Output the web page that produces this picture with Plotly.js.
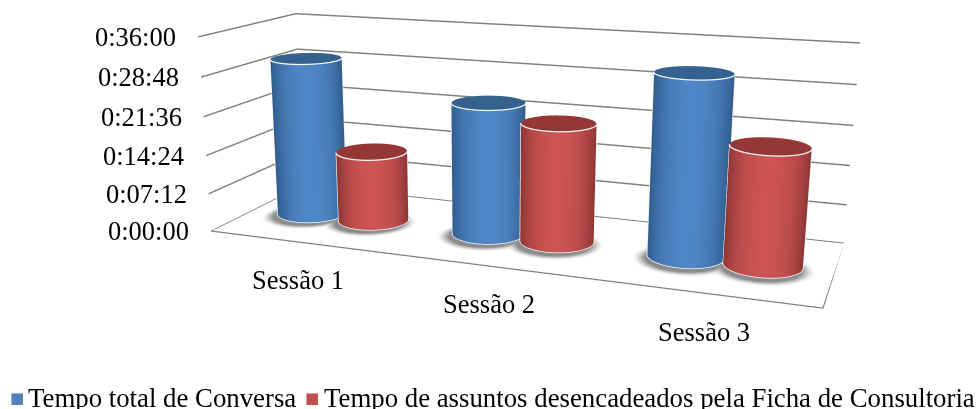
<!DOCTYPE html>
<html><head><meta charset="utf-8"><script src="https://cdn.plot.ly/plotly-3.0.1.min.js"></script>
<style>html,body{margin:0;padding:0;background:#fff;overflow:hidden;width:976px;height:409px}#c{position:absolute;left:0;top:-308px;width:978px;height:997px}</style></head><body><div id="c"></div>
<script>
var categories=["Sessão 1","Sessão 2","Sessão 3"];
var seriesNames=["Tempo total de Conversa","Tempo de assuntos desencadeados pela Ficha de Consultoria"];
var total=[30.2,24.4,32.1];
var assuntos=[13.4,21.7,20.7];
var tickVals=[0,7.2,14.4,21.6,28.8,36];
var tickText=["0:00:00","0:07:12","0:14:24","0:21:36","0:28:48","0:36:00"];
var W=978,H=997,TOP=-308;
var eye={x:1.4099,y:-4.0343,z:1.0054},center={x:-.0788,y:-.1414,z:-.1589},up={x:-.0122,y:.0327,z:1};
var ar={x:2.2495,y:.7022,z:.7381};
var rx=.18,ry=.193,bx=.18;
var FONT='"Liberation Serif",serif';
var blue={side:[[0,'#2b5480'],[.55,'#3a6aa0'],[1,'#4f86c6']],cap:'#35618f',sw:'#4f81bd'};
var red={side:[[0,'#7f2f2d'],[.55,'#a34040'],[1,'#cc5452']],cap:'#953735',sw:'#c0504d'};
var flat={ambient:1,diffuse:0,specular:0,fresnel:0,roughness:1};
function wx(x){return ((x-.5)/3-.5)*ar.x}
function wy(y){return (y-.5)*ar.y}
function cyl(cx,h,s){
 var N=64,cy=.5,X=[],Y=[],Z=[],C=[];
 var vx=eye.x-wx(cx),vy=eye.y-wy(cy),L=Math.hypot(vx,vy);vx/=L;vy/=L;
 var ph=Math.atan2(vy,vx);
 for(var k=0;k<=1;k++){var a=[],b=[],c=[],d=[];for(var i=0;i<=N;i++){var t=i/N*2*Math.PI;a.push(cx+rx*Math.cos(t));b.push(cy+ry*Math.sin(t));c.push(k*h);d.push(Math.max(0,Math.cos(t)*vx+Math.sin(t)*vy));}X.push(a);Y.push(b);Z.push(c);C.push(d);}
 var out=[{type:'surface',x:X,y:Y,z:Z,surfacecolor:C,cmin:0,cmax:1,colorscale:s.side,showscale:false,hoverinfo:'skip',lighting:flat}];
 var cX=[],cY=[],cZ=[];
 [0,1].forEach(function(q){var a=[],b=[],c=[];for(var i=0;i<=N;i++){var t=i/N*2*Math.PI;a.push(cx+q*rx*Math.cos(t));b.push(cy+q*ry*Math.sin(t));c.push(h);}cX.push(a);cY.push(b);cZ.push(c);});
 out.push({type:'surface',x:cX,y:cY,z:cZ,surfacecolor:cZ.map(function(r){return r.map(function(){return 0})}),cmin:0,cmax:1,colorscale:[[0,s.cap],[1,s.cap]],showscale:false,hoverinfo:'skip',lighting:flat});
 [h,.02].forEach(function(z){var a=[],b=[],c=[];for(var i=-16;i<=16;i++){var t=ph+i/16*Math.PI/2;a.push(cx+1.01*rx*Math.cos(t));b.push(cy+1.01*ry*Math.sin(t));c.push(z);}
  out.push({type:'scatter3d',mode:'lines',x:a,y:b,z:c,line:{color:'#f4f7fb',width:2.5},hoverinfo:'skip',showlegend:false});});
 [-1,1].forEach(function(sg){var t=ph+sg*Math.PI/2;var xx=cx+1.01*rx*Math.cos(t),yy=cy+1.01*ry*Math.sin(t);
  out.push({type:'scatter3d',mode:'lines',x:[xx,xx],y:[yy,yy],z:[0,h],line:{color:'#eef2f7',width:1.5},hoverinfo:'skip',showlegend:false});});
 return out;
}
var fx=[],fy=[],fz=[],fc=[];
var centers=[];categories.forEach(function(c,i){centers.push(i+1-bx,i+1+bx)});
for(var j=0;j<=80;j++){var yy0=j/80;var a=[],b=[],c=[],d=[];for(var i=0;i<=300;i++){var xx=.5+3*i/300;a.push(xx);b.push(yy0);c.push(0);
 var s=0;centers.forEach(function(cc){var dd=Math.hypot((xx-cc)/rx,(yy0-.45)/ry);s=Math.max(s,Math.min(1,Math.max(0,(1.34-dd)/.34)));});d.push(Math.pow(s,1.5));}
 fx.push(a);fy.push(b);fz.push(c);fc.push(d);}
var data=[{type:'surface',x:fx,y:fy,z:fz,surfacecolor:fc,cmin:0,cmax:1,colorscale:[[0,'#ffffff'],[1,'#8c8c8c']],showscale:false,hoverinfo:'skip',lighting:flat}];
function edge(x,y){var z=x.map(function(){return .06});return {type:'scatter3d',mode:'lines',x:x,y:y,z:z,line:{color:'#808080',width:2.5},hoverinfo:'skip',showlegend:false}}
data.push(edge([.5,3.5,3.5,.5,.5],[0,0,1,1,0]));
categories.forEach(function(c,i){data=data.concat(cyl(i+1-bx,total[i],blue)).concat(cyl(i+1+bx,assuntos[i],red));});
var anns=[];
tickVals.forEach(function(v,i){anns.push({x:.5,y:0,z:v,text:tickText[i],showarrow:false,xanchor:'right',yanchor:'middle',xshift:-20,font:{family:FONT,size:26.5,color:'#000'}})});
categories.forEach(function(c,i){anns.push({x:i+1,y:0,z:0,text:c,showarrow:false,xanchor:'center',yanchor:'middle',yshift:-38,font:{family:FONT,size:26.5,color:'#000'}})});
function px(x){return x/W}function py(y){return 1-(y-TOP)/H}
function lab(x,text){return {xref:'paper',yref:'paper',x:px(x),y:py(407),yanchor:'bottom',xanchor:'left',yshift:-8,text:text,showarrow:false,align:'left',font:{family:FONT,size:26.8,color:'#000'}}}
function swatch(x,col){return {xref:'paper',yref:'paper',x:px(x),y:py(398),xanchor:'center',yanchor:'middle',text:'■',showarrow:false,font:{family:'DejaVu Sans',size:15,color:col}}}
var page=[lab(26,seriesNames[0]),lab(322,seriesNames[1]),swatch(16.5,blue.sw),swatch(311.5,red.sw)];
var none={visible:true,showgrid:false,showline:false,zeroline:false,showticklabels:false,ticks:'',showbackground:false,showspikes:false,title:{text:''}};
Plotly.newPlot('c',data,{width:W,height:H,showlegend:false,margin:{l:0,r:0,t:0,b:0,pad:0},paper_bgcolor:'#fff',annotations:page,
 scene:{domain:{x:[0,1],y:[0,1]},annotations:anns,
 xaxis:Object.assign({},none,{range:[.5,3.5]}),yaxis:Object.assign({},none,{range:[0,1]}),
 zaxis:Object.assign({},none,{range:[0,36],showgrid:true,gridcolor:'#808080',gridwidth:3,tickvals:tickVals,ticktext:tickText,tickmode:'array'}),
 camera:{eye:eye,center:center,up:up,projection:{type:'perspective'}},aspectmode:'manual',aspectratio:ar}},{displayModeBar:false});
</script></body></html>
